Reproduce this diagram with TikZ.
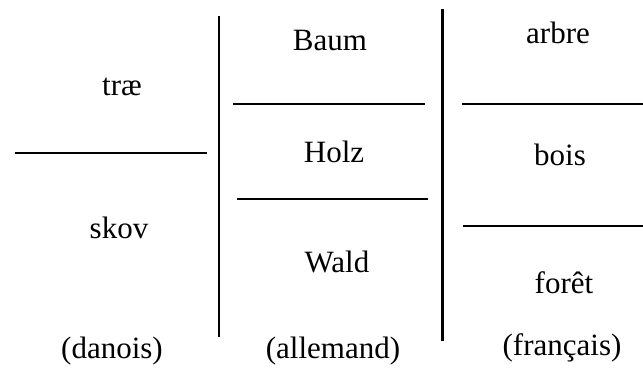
\documentclass[tikz,border=0pt]{standalone}
\usepackage{fontspec}
\setmainfont{Liberation Serif}
\begin{document}
\begin{tikzpicture}[x=0.5pt, y=-0.5pt,
    word/.style={anchor=base, inner sep=0pt, font=\fontsize{15.5}{18}\selectfont},
    sep/.style={line width=0.9pt},
    bar/.style={line width=1.3pt}]
      \useasboundingbox (0,0) rectangle (643,376);

      % Danish column
      \node[word] (trae) at (122,95) {træ};
      \node[word] (skov) at (119,238) {skov};
      \node[word] (danois) at (112,358) {(danois)};

      % German column
      \node[word] (baum) at (330,50) {Baum};
      \node[word] (holz) at (334,162) {Holz};
      \node[word] (wald) at (337,272) {Wald};
      \node[word] (allemand) at (333,358) {(allemand)};

      % French column
      \node[word] (arbre) at (558,43) {arbre};
      \node[word] (bois) at (560,165) {bois};
      \node[word] (foret) at (564,293) {forêt};
      \node[word] (francais) at (562,355) {(français)};

      % Vertical bars
      \draw[bar] (219,16) -- (219,337);
      \draw[bar] (442.5,9) -- (442.5,341);

      % Separators
      \draw[sep] (15,152.7) -- (207,152.7);
      \draw[sep] (233,104) -- (425,104);
      \draw[sep] (237,199) -- (428,199);
      \draw[sep] (462,104) -- (643,104);
      \draw[sep] (463,226) -- (643,226);
\end{tikzpicture}
\end{document}
